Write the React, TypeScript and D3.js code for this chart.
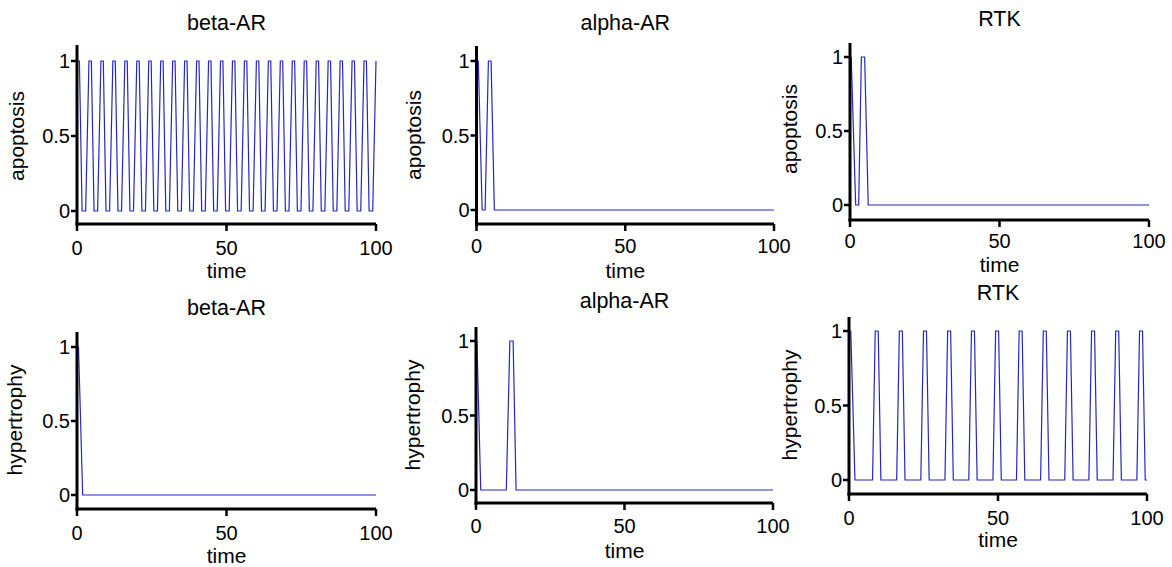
import React from "react";
import * as d3 from "d3";

// ---- data: [time, value] ----
const betaApoptosis: [number, number][] = [
  [0, 1], [0.8, 1], [1.7, 0], [2.9, 0],
  [4.0, 1], [4.8, 1], [5.7, 0], [6.9, 0],
  [8.0, 1], [8.8, 1], [9.7, 0], [10.9, 0],
  [12.0, 1], [12.8, 1], [13.7, 0], [14.9, 0],
  [16.0, 1], [16.8, 1], [17.7, 0], [18.9, 0],
  [20.0, 1], [20.8, 1], [21.7, 0], [22.9, 0],
  [24.0, 1], [24.8, 1], [25.7, 0], [26.9, 0],
  [28.0, 1], [28.8, 1], [29.7, 0], [30.9, 0],
  [32.0, 1], [32.8, 1], [33.7, 0], [34.9, 0],
  [36.0, 1], [36.8, 1], [37.7, 0], [38.9, 0],
  [40.0, 1], [40.8, 1], [41.7, 0], [42.9, 0],
  [44.0, 1], [44.8, 1], [45.7, 0], [46.9, 0],
  [48.0, 1], [48.8, 1], [49.7, 0], [50.9, 0],
  [52.0, 1], [52.8, 1], [53.7, 0], [54.9, 0],
  [56.0, 1], [56.8, 1], [57.7, 0], [58.9, 0],
  [60.0, 1], [60.8, 1], [61.7, 0], [62.9, 0],
  [64.0, 1], [64.8, 1], [65.7, 0], [66.9, 0],
  [68.0, 1], [68.8, 1], [69.7, 0], [70.9, 0],
  [72.0, 1], [72.8, 1], [73.7, 0], [74.9, 0],
  [76.0, 1], [76.8, 1], [77.7, 0], [78.9, 0],
  [80.0, 1], [80.8, 1], [81.7, 0], [82.9, 0],
  [84.0, 1], [84.8, 1], [85.7, 0], [86.9, 0],
  [88.0, 1], [88.8, 1], [89.7, 0], [90.9, 0],
  [92.0, 1], [92.8, 1], [93.7, 0], [94.9, 0],
  [96.0, 1], [96.8, 1], [97.7, 0], [98.9, 0],
  [100, 1],
];

const alphaApoptosis: [number, number][] = [
  [0, 1], [0.6, 1], [1.9, 0], [2.9, 0], [4.0, 1], [4.9, 1], [6.0, 0], [100, 0],
];

const rtkApoptosis: [number, number][] = [
  [0, 1], [0.4, 1], [1.9, 0], [2.9, 0], [3.8, 1], [4.9, 1], [6.1, 0], [100, 0],
];

const betaHypertrophy: [number, number][] = [
  [0, 1], [0.5, 1], [1.9, 0], [100, 0],
];

const alphaHypertrophy: [number, number][] = [
  [0, 1], [0.3, 1], [1.6, 0], [10.2, 0], [11.4, 1], [12.5, 1], [13.5, 0], [100, 0],
];

const rtkHypertrophy: [number, number][] = [
  [0, 1], [0.6, 1], [2.0, 0],
  [7.9, 0], [8.8, 1], [9.8, 1], [10.7, 0],
  [16.0, 0], [16.9, 1], [17.9, 1], [18.8, 0],
  [24.1, 0], [25.0, 1], [26.0, 1], [26.9, 0],
  [32.2, 0], [33.1, 1], [34.1, 1], [35.0, 0],
  [40.2, 0], [41.1, 1], [42.1, 1], [43.0, 0],
  [48.3, 0], [49.2, 1], [50.2, 1], [51.1, 0],
  [56.2, 0], [57.1, 1], [58.1, 1], [59.0, 0],
  [64.3, 0], [65.2, 1], [66.2, 1], [67.1, 0],
  [72.4, 0], [73.3, 1], [74.3, 1], [75.2, 0],
  [80.5, 0], [81.4, 1], [82.4, 1], [83.3, 0],
  [88.6, 0], [89.5, 1], [90.5, 1], [91.4, 0],
  [96.6, 0], [97.5, 1], [98.5, 1], [99.4, 0],
  [100, 0],
];

const titles = ["beta-AR", "alpha-AR", "RTK", "beta-AR", "alpha-AR", "RTK"];
const yLabels = ["apoptosis", "apoptosis", "apoptosis", "hypertrophy", "hypertrophy", "hypertrophy"];
const xLabel = "time";
const xTicks = [0, 50, 100];
const yTicks = [0, 0.5, 1];
const series = [betaApoptosis, alphaApoptosis, rtkApoptosis, betaHypertrophy, alphaHypertrophy, rtkHypertrophy];

// ---- layout (pixel geometry) ----
const layouts = [
  { x0: 77, x1: 376, y0: 211, y1: 61, axisY: 224, yTop: 45, titleY: 30, tickY: 255, xLabY: 278, yLabX: 24, yLabY: 136 },
  { x0: 476.5, x1: 774, y0: 210, y1: 61, axisY: 224, yTop: 46, titleY: 30, tickY: 253, xLabY: 278, yLabX: 421, yLabY: 135 },
  { x0: 850, x1: 1149, y0: 205, y1: 57, axisY: 220, yTop: 43, titleY: 26, tickY: 248, xLabY: 272, yLabX: 797, yLabY: 129 },
  { x0: 77, x1: 376, y0: 495, y1: 347, axisY: 509, yTop: 332, titleY: 315, tickY: 540, xLabY: 563, yLabX: 22, yLabY: 420 },
  { x0: 476, x1: 773, y0: 490, y1: 341, axisY: 503, yTop: 327, titleY: 308, tickY: 533, xLabY: 558, yLabX: 420, yLabY: 415 },
  { x0: 849, x1: 1147, y0: 480, y1: 331, axisY: 494, yTop: 317, titleY: 300, tickY: 525, xLabY: 547, yLabX: 797, yLabY: 405 },
];

const FONT = "'Liberation Sans', Arial, sans-serif";
const LINE = "#2626c4";

function Panel({ i }: { i: number }) {
  const L = layouts[i];
  const x = d3.scaleLinear().domain([0, 100]).range([L.x0, L.x1]);
  const y = d3.scaleLinear().domain([0, 1]).range([L.y0, L.y1]);
  const line = d3
    .line<[number, number]>()
    .x((d) => x(d[0]))
    .y((d) => y(d[1]));
  const cx = (L.x0 + L.x1) / 2;
  return (
    <g>
      <text x={cx} y={L.titleY} textAnchor="middle" fontSize={21.5} fontFamily={FONT} fill="#000">
        {titles[i]}
      </text>
      <path d={line(series[i]) || ""} fill="none" stroke={LINE} strokeWidth={1.2} />
      {/* y axis */}
      <line x1={L.x0} x2={L.x0} y1={L.yTop} y2={L.axisY + 1.5} stroke="#000" strokeWidth={3} />
      {yTicks.map((t) => (
        <g key={"y" + t}>
          <line x1={L.x0 - 6} x2={L.x0} y1={y(t)} y2={y(t)} stroke="#000" strokeWidth={2.5} />
          <text x={L.x0 - 7} y={y(t) + 7} textAnchor="end" fontSize={20} fontFamily={FONT} fill="#000">
            {String(t)}
          </text>
        </g>
      ))}
      {/* x axis */}
      <line x1={L.x0 - 1.5} x2={L.x1} y1={L.axisY} y2={L.axisY} stroke="#000" strokeWidth={3} />
      {xTicks.map((t) => (
        <g key={"x" + t}>
          <line x1={x(t)} x2={x(t)} y1={L.axisY} y2={L.axisY + 7} stroke="#000" strokeWidth={2.5} />
          <text x={x(t)} y={L.tickY} textAnchor="middle" fontSize={20} fontFamily={FONT} fill="#000">
            {String(t)}
          </text>
        </g>
      ))}
      <text x={cx} y={L.xLabY} textAnchor="middle" fontSize={21} fontFamily={FONT} fill="#000">
        {xLabel}
      </text>
      <text
        transform={`translate(${L.yLabX},${L.yLabY}) rotate(-90)`}
        textAnchor="middle"
        fontSize={21}
        fontFamily={FONT}
        fill="#000"
      >
        {yLabels[i]}
      </text>
    </g>
  );
}

export default function App() {
  return (
    <svg
      width={1172}
      height={567}
      style={{ position: "absolute", left: 0, top: 0, background: "#fff", display: "block" }}
    >
      <rect width={1172} height={567} fill="#fff" />
      {layouts.map((_, i) => (
        <Panel key={i} i={i} />
      ))}
    </svg>
  );
}
